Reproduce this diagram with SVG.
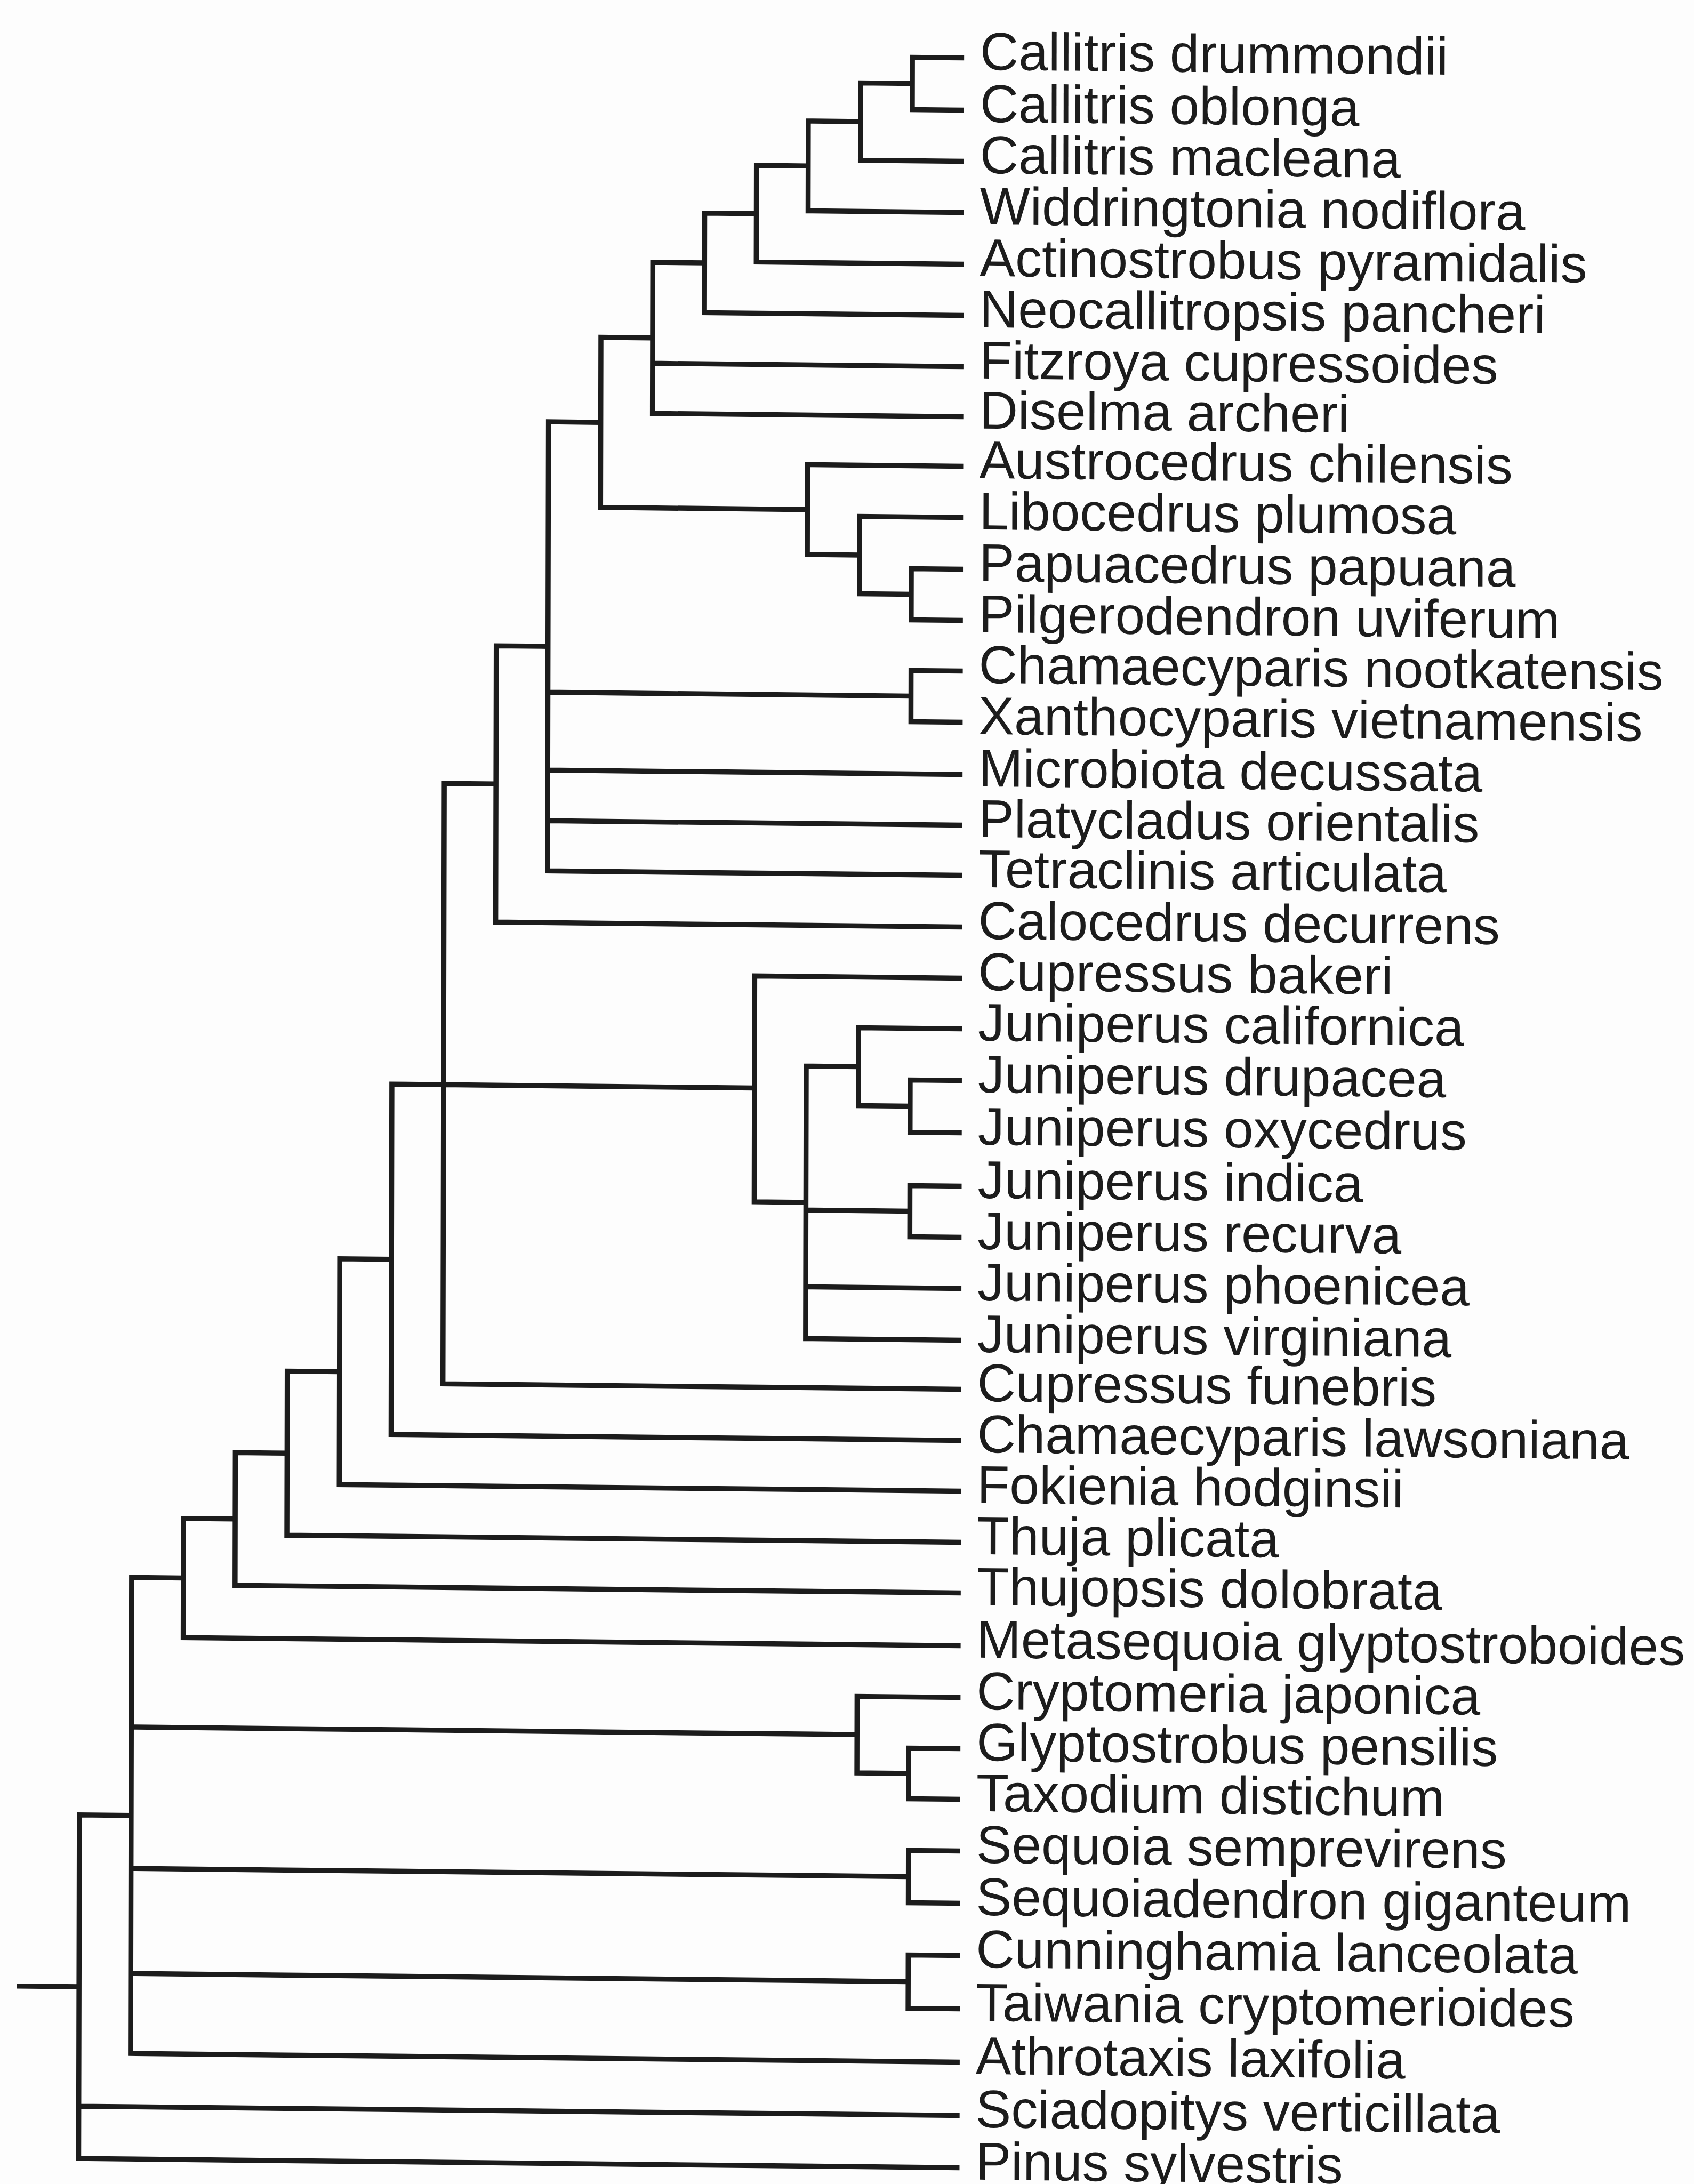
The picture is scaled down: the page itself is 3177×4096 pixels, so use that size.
<svg xmlns="http://www.w3.org/2000/svg" width="3177" height="4096" viewBox="0 0 3177 4096">
<style>
.c{fill:none;stroke:#1c1c1c;stroke-width:9.5;stroke-linejoin:miter;stroke-linecap:butt}
.t{font-family:"Liberation Sans",Arial,Helvetica,sans-serif;font-size:100px;fill:#1c1c1c}
</style>
<rect x="0" y="0" width="3177" height="4096" fill="#fdfdfd"/>
<g transform="matrix(1,0.0105,-0.0022,1,4.4,-18.45)">
<g id="connectors">
<path class="c" d="M1804,108 H1707 V206 H1804"/>
<path class="c" d="M1707,157 H1610 V302 H1804"/>
<path class="c" d="M1610,229.5 H1512 V398 H1804"/>
<path class="c" d="M1512,313.75 H1415 V495 H1804"/>
<path class="c" d="M1415,404.4 H1318 V591 H1804"/>
<path class="c" d="M1318,497.7 H1221 V781 H1804 M1221,687 H1804"/>
<path class="c" d="M1804,1067 H1707 V1163 H1804"/>
<path class="c" d="M1804,970 H1610 V1115 H1707"/>
<path class="c" d="M1804,874 H1512 V1042.5 H1610"/>
<path class="c" d="M1221,639.3 H1124 V958.25 H1512"/>
<path class="c" d="M1804,1258 H1707 V1354 H1804"/>
<path class="c" d="M1124,798.8 H1026 V1641 H1804 M1026,1306 H1707 M1026,1452 H1804 M1026,1547 H1804"/>
<path class="c" d="M1026,1219.9 H929 V1738 H1804"/>
<path class="c" d="M1804,2026 H1707 V2124 H1804"/>
<path class="c" d="M1804,1929 H1610 V2075 H1707"/>
<path class="c" d="M1804,2224 H1707 V2320 H1804"/>
<path class="c" d="M1610,2002 H1512 V2513 H1804 M1512,2272 H1707 M1512,2416 H1804"/>
<path class="c" d="M1804,1834 H1415 V2257.5 H1512"/>
<path class="c" d="M929,1479 H832 V2605 H1804 M832,2044 H1415"/>
<path class="c" d="M832,2044 H735 V2701 H1804"/>
<path class="c" d="M735,2372.5 H638 V2796 H1804"/>
<path class="c" d="M638,2584.25 H540 V2892 H1804"/>
<path class="c" d="M540,2738.1 H443 V2987 H1804"/>
<path class="c" d="M443,2862.6 H346 V3086 H1804"/>
<path class="c" d="M1804,3279 H1707 V3374 H1804"/>
<path class="c" d="M1804,3183 H1610 V3326.5 H1707"/>
<path class="c" d="M1804,3471 H1707 V3569 H1804"/>
<path class="c" d="M1804,3667 H1707 V3767 H1804"/>
<path class="c" d="M346,2974.3 H249 V3867 H1804 M249,3254.75 H1610 M249,3520 H1707 M249,3717 H1707"/>
<path class="c" d="M249,3420.65 H152 V4065 H1804 M152,3967 H1804 M35,3742.8 H152"/>
</g>
<g id="leaf-callitris-drummondii"><text class="t" x="1834" y="130">Callitris drummondii</text></g>
<g id="leaf-callitris-oblonga"><text class="t" x="1834" y="228">Callitris oblonga</text></g>
<g id="leaf-callitris-macleana"><text class="t" x="1834" y="324">Callitris macleana</text></g>
<g id="leaf-widdringtonia-nodiflora"><text class="t" x="1834" y="420">Widdringtonia nodiflora</text></g>
<g id="leaf-actinostrobus-pyramidalis"><text class="t" x="1834" y="517">Actinostrobus pyramidalis</text></g>
<g id="leaf-neocallitropsis-pancheri"><text class="t" x="1834" y="613">Neocallitropsis pancheri</text></g>
<g id="leaf-fitzroya-cupressoides"><text class="t" x="1834" y="709">Fitzroya cupressoides</text></g>
<g id="leaf-diselma-archeri"><text class="t" x="1834" y="803">Diselma archeri</text></g>
<g id="leaf-austrocedrus-chilensis"><text class="t" x="1834" y="896">Austrocedrus chilensis</text></g>
<g id="leaf-libocedrus-plumosa"><text class="t" x="1834" y="992">Libocedrus plumosa</text></g>
<g id="leaf-papuacedrus-papuana"><text class="t" x="1834" y="1089">Papuacedrus papuana</text></g>
<g id="leaf-pilgerodendron-uviferum"><text class="t" x="1834" y="1185">Pilgerodendron uviferum</text></g>
<g id="leaf-chamaecyparis-nootkatensis"><text class="t" x="1834" y="1280">Chamaecyparis nootkatensis</text></g>
<g id="leaf-xanthocyparis-vietnamensis"><text class="t" x="1834" y="1376">Xanthocyparis vietnamensis</text></g>
<g id="leaf-microbiota-decussata"><text class="t" x="1834" y="1474">Microbiota decussata</text></g>
<g id="leaf-platycladus-orientalis"><text class="t" x="1834" y="1569">Platycladus orientalis</text></g>
<g id="leaf-tetraclinis-articulata"><text class="t" x="1834" y="1663">Tetraclinis articulata</text></g>
<g id="leaf-calocedrus-decurrens"><text class="t" x="1834" y="1760">Calocedrus decurrens</text></g>
<g id="leaf-cupressus-bakeri"><text class="t" x="1834" y="1856">Cupressus bakeri</text></g>
<g id="leaf-juniperus-californica"><text class="t" x="1834" y="1951">Juniperus californica</text></g>
<g id="leaf-juniperus-drupacea"><text class="t" x="1834" y="2048">Juniperus drupacea</text></g>
<g id="leaf-juniperus-oxycedrus"><text class="t" x="1834" y="2146">Juniperus oxycedrus</text></g>
<g id="leaf-juniperus-indica"><text class="t" x="1834" y="2246">Juniperus indica</text></g>
<g id="leaf-juniperus-recurva"><text class="t" x="1834" y="2342">Juniperus recurva</text></g>
<g id="leaf-juniperus-phoenicea"><text class="t" x="1834" y="2438">Juniperus phoenicea</text></g>
<g id="leaf-juniperus-virginiana"><text class="t" x="1834" y="2535">Juniperus virginiana</text></g>
<g id="leaf-cupressus-funebris"><text class="t" x="1834" y="2627">Cupressus funebris</text></g>
<g id="leaf-chamaecyparis-lawsoniana"><text class="t" x="1834" y="2723">Chamaecyparis lawsoniana</text></g>
<g id="leaf-fokienia-hodginsii"><text class="t" x="1834" y="2818">Fokienia hodginsii</text></g>
<g id="leaf-thuja-plicata"><text class="t" x="1834" y="2914">Thuja plicata</text></g>
<g id="leaf-thujopsis-dolobrata"><text class="t" x="1834" y="3009">Thujopsis dolobrata</text></g>
<g id="leaf-metasequoia-glyptostroboides"><text class="t" x="1834" y="3108">Metasequoia glyptostroboides</text></g>
<g id="leaf-cryptomeria-japonica"><text class="t" x="1834" y="3205">Cryptomeria japonica</text></g>
<g id="leaf-glyptostrobus-pensilis"><text class="t" x="1834" y="3301">Glyptostrobus pensilis</text></g>
<g id="leaf-taxodium-distichum"><text class="t" x="1834" y="3396">Taxodium distichum</text></g>
<g id="leaf-sequoia-semprevirens"><text class="t" x="1834" y="3493">Sequoia semprevirens</text></g>
<g id="leaf-sequoiadendron-giganteum"><text class="t" x="1834" y="3591">Sequoiadendron giganteum</text></g>
<g id="leaf-cunninghamia-lanceolata"><text class="t" x="1834" y="3689">Cunninghamia lanceolata</text></g>
<g id="leaf-taiwania-cryptomerioides"><text class="t" x="1834" y="3789">Taiwania cryptomerioides</text></g>
<g id="leaf-athrotaxis-laxifolia"><text class="t" x="1834" y="3889">Athrotaxis laxifolia</text></g>
<g id="leaf-sciadopitys-verticillata"><text class="t" x="1834" y="3989">Sciadopitys verticillata</text></g>
<g id="leaf-pinus-sylvestris"><text class="t" x="1834" y="4087">Pinus sylvestris</text></g>
</g>
</svg>
